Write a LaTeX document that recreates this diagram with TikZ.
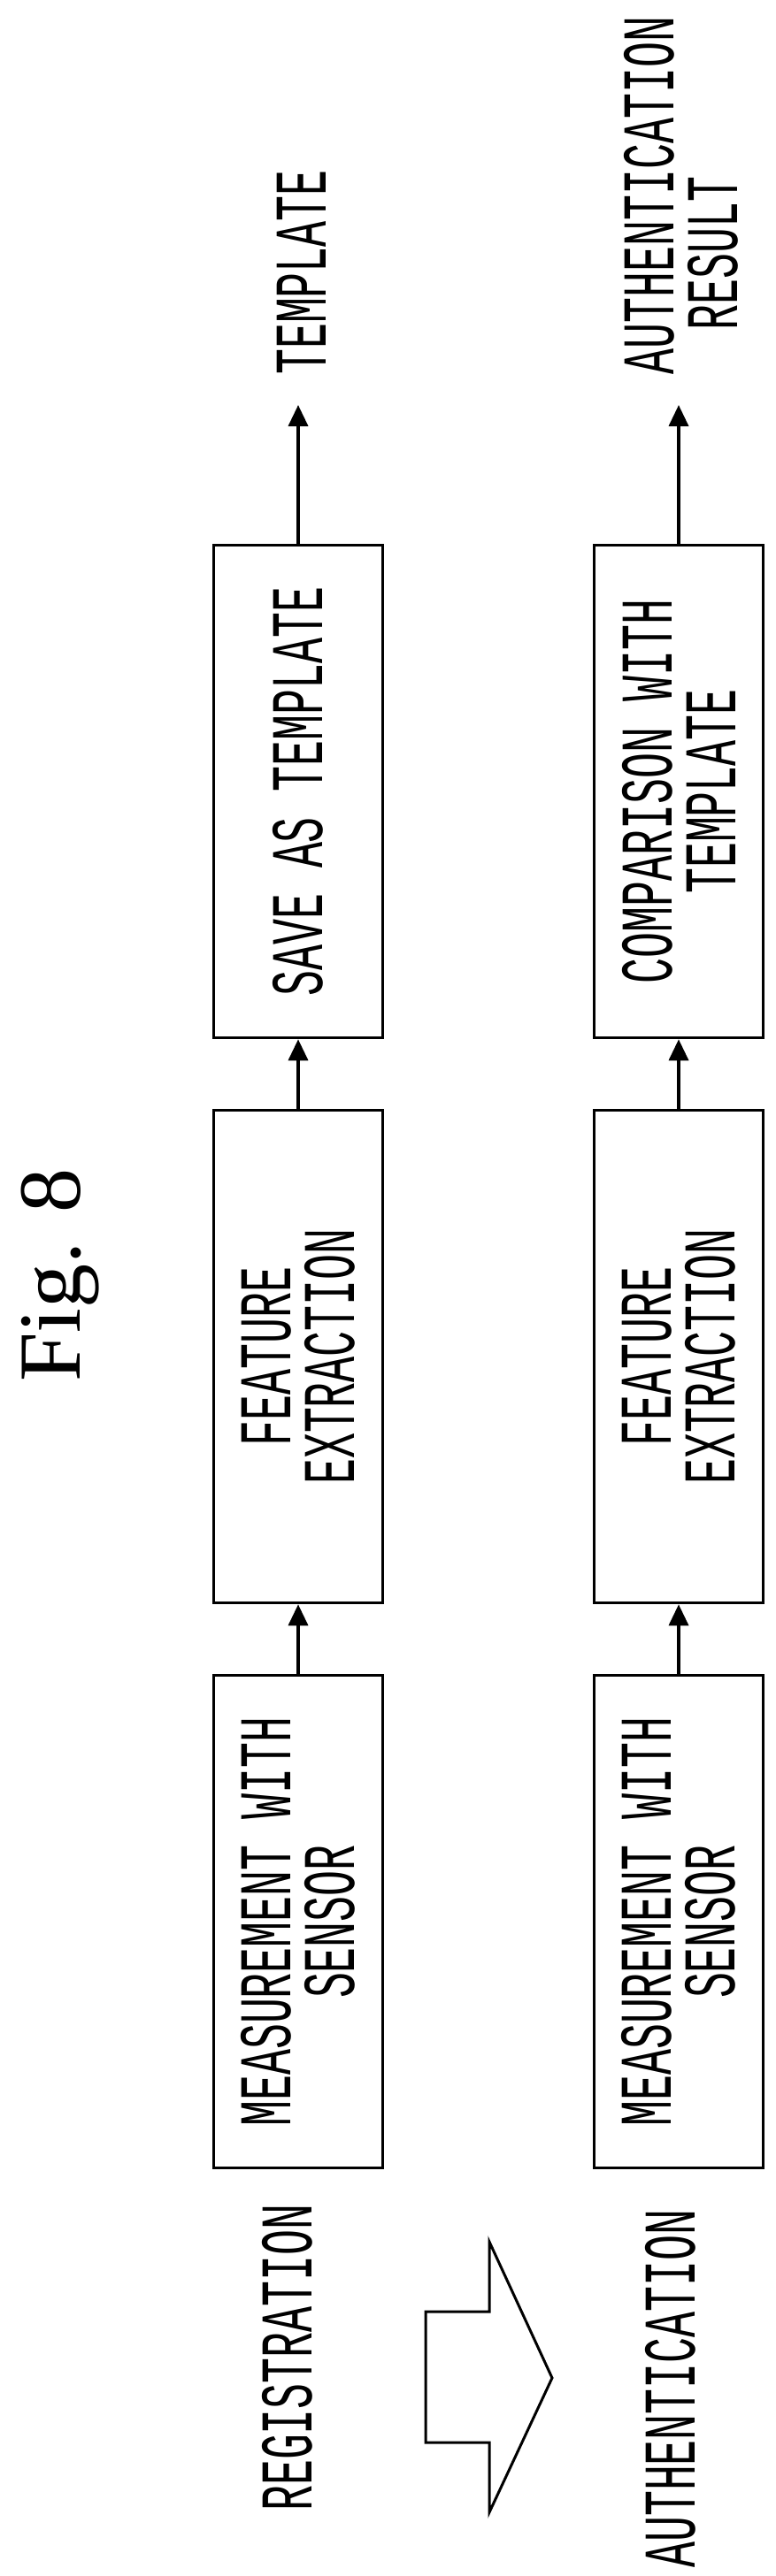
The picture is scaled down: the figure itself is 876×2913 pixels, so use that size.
\documentclass[tikz,border=0pt]{standalone}
\usepackage{fontspec}
\usepackage{tikz}
\usetikzlibrary{positioning}
\usetikzlibrary{arrows.meta}
\newfontfamily\diagfont[FakeStretch=0.575]{Liberation Mono}
\newfontfamily\figfont{Liberation Serif}
\tikzset{
	stepbox/.style={draw, line width=3.5pt, rotate=90, minimum width=557pt, minimum height=191pt,
		inner sep=0pt, align=center, font=\diagfont\fontsize{84}{72}\selectfont},
	lbl/.style={rotate=90, inner sep=0pt, font=\diagfont\fontsize{84}{72}\selectfont},
	flow/.style={line width=3.5pt, -{Triangle[width=22pt,length=24pt]}}
}

\begin{document}
\begin{tikzpicture}[x=1pt, y=-1pt]
\useasboundingbox (0,0) rectangle (876,2913);

\node (fig) [rotate=90, inner sep=0pt, font=\figfont\fontsize{100}{100}\selectfont] at (68,1442) {Fig. 8};

% registration
\node (rmeas) [stepbox] at (337,2173) {MEASUREMENT WITH\\SENSOR};
\node (rfeat) [stepbox] at (337,1534) {FEATURE\\EXTRACTION};
\node (rsave) [stepbox] at (337,895) {SAVE AS TEMPLATE};
\coordinate (rout) at (337,458);
\node (rtempl) [lbl] at (341,308) {TEMPLATE};
\node (rname) [lbl] at (325,2666) {REGISTRATION};

% authentication
\node (ameas) [stepbox] at (767,2173) {MEASUREMENT WITH\\SENSOR};
\node (afeat) [stepbox] at (767,1534) {FEATURE\\EXTRACTION};
\node (acomp) [stepbox] at (767,895) {COMPARISON WITH\\TEMPLATE};
\coordinate (aout) at (767,458);
\node (aresult) [lbl, align=left, anchor=west] at (770,424) {AUTHENTICATION\\\hspace*{0.6em}RESULT};
\node (aname) [lbl] at (758,2701) {AUTHENTICATION};

\draw[flow] (rmeas) -- (rfeat);
\draw[flow] (rfeat) -- (rsave);
\draw[flow] (rsave) -- (rout);
\draw[flow] (ameas) -- (afeat);
\draw[flow] (afeat) -- (acomp);
\draw[flow] (acomp) -- (aout);

% hollow arrow
\draw[line width=3pt, line join=miter]
	(481,2614) -- (553,2614) -- (553,2535) -- (624,2689) -- (553,2841) -- (553,2762) -- (481,2762) -- cycle;
\end{tikzpicture}
\end{document}
